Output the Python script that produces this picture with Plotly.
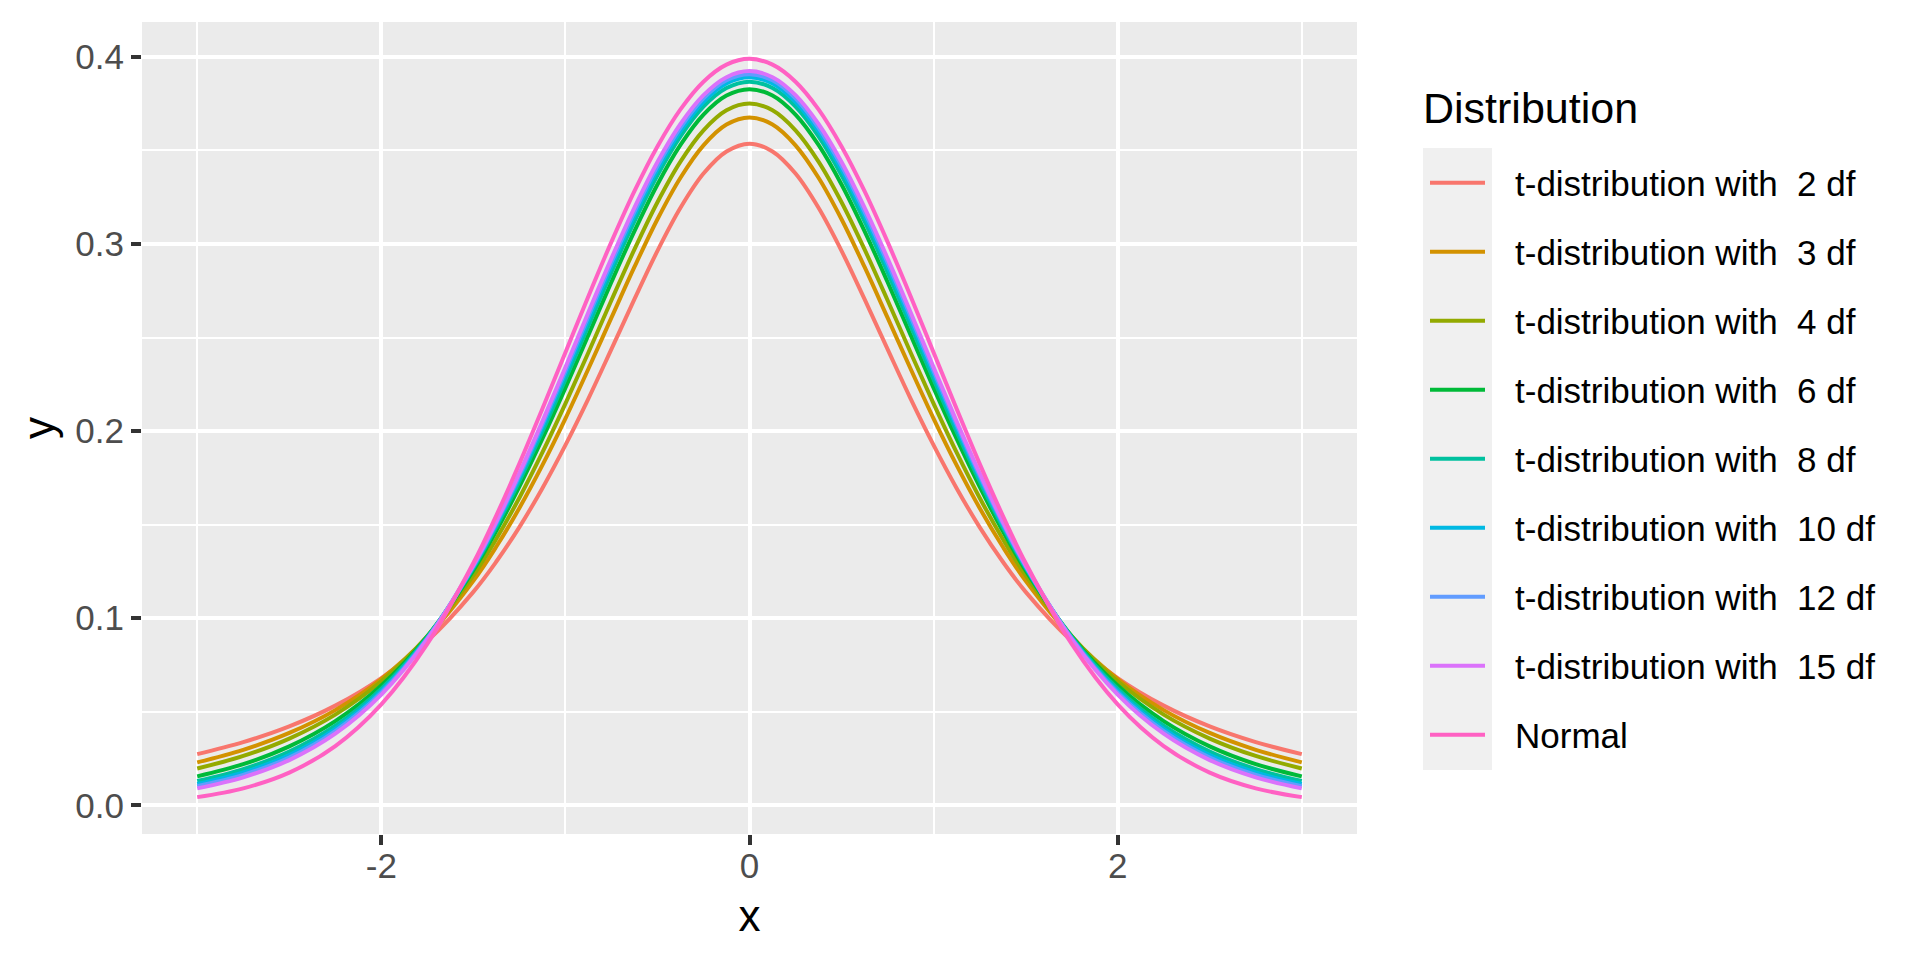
import plotly.graph_objects as go

# x grid the curves were read at (finer around the peak)
x_vals = [-3.0, -2.75, -2.5, -2.25, -2.0, -1.75, -1.5, -1.375, -1.25, -1.125, -1.0, -0.875, -0.75,
          -0.625, -0.5, -0.375, -0.25, -0.125, 0.0, 0.125, 0.25, 0.375, 0.5, 0.625, 0.75, 0.875,
          1.0, 1.125, 1.25, 1.375, 1.5, 1.75, 2.0, 2.25, 2.5, 2.75, 3.0]

# density values
t2 = [0.0274, 0.0338, 0.0422, 0.0533, 0.0680, 0.0878, 0.1141, 0.1303, 0.1487, 0.1695, 0.1925, 0.2174, 0.2438,
      0.2705, 0.2963, 0.3193, 0.3376, 0.3494, 0.3536, 0.3494, 0.3376, 0.3193, 0.2963, 0.2705, 0.2438, 0.2174,
      0.1925, 0.1695, 0.1487, 0.1303, 0.1141, 0.0878, 0.0680, 0.0533, 0.0422, 0.0338, 0.0274]
t3 = [0.0230, 0.0297, 0.0387, 0.0509, 0.0675, 0.0900, 0.1200, 0.1383, 0.1589, 0.1818, 0.2067, 0.2333, 0.2606,
      0.2877, 0.3132, 0.3354, 0.3527, 0.3638, 0.3676, 0.3638, 0.3527, 0.3354, 0.3132, 0.2877, 0.2606, 0.2333,
      0.2067, 0.1818, 0.1589, 0.1383, 0.1200, 0.0900, 0.0675, 0.0509, 0.0387, 0.0297, 0.0230]
t4 = [0.0197, 0.0264, 0.0357, 0.0485, 0.0663, 0.0905, 0.1229, 0.1425, 0.1644, 0.1886, 0.2147, 0.2420, 0.2699,
      0.2971, 0.3223, 0.3440, 0.3607, 0.3714, 0.3750, 0.3714, 0.3607, 0.3440, 0.3223, 0.2971, 0.2699, 0.2420,
      0.2147, 0.1886, 0.1644, 0.1425, 0.1229, 0.0905, 0.0663, 0.0485, 0.0357, 0.0264, 0.0197]
t6 = [0.0155, 0.0220, 0.0315, 0.0450, 0.0640, 0.0904, 0.1256, 0.1467, 0.1703, 0.1959, 0.2231, 0.2514, 0.2797,
      0.3069, 0.3318, 0.3529, 0.3691, 0.3793, 0.3827, 0.3793, 0.3691, 0.3529, 0.3318, 0.3069, 0.2797, 0.2514,
      0.2231, 0.1959, 0.1703, 0.1467, 0.1256, 0.0904, 0.0640, 0.0450, 0.0315, 0.0220, 0.0155]
t8 = [0.0130, 0.0194, 0.0288, 0.0426, 0.0624, 0.0899, 0.1268, 0.1489, 0.1733, 0.1997, 0.2276, 0.2563, 0.2848,
      0.3120, 0.3367, 0.3575, 0.3734, 0.3833, 0.3867, 0.3833, 0.3734, 0.3575, 0.3367, 0.3120, 0.2848, 0.2563,
      0.2276, 0.1997, 0.1733, 0.1489, 0.1268, 0.0899, 0.0624, 0.0426, 0.0288, 0.0194, 0.0130]
t10 = [0.0114, 0.0176, 0.0269, 0.0409, 0.0611, 0.0895, 0.1274, 0.1501, 0.1751, 0.2020, 0.2304, 0.2593, 0.2880,
       0.3152, 0.3397, 0.3603, 0.3760, 0.3858, 0.3891, 0.3858, 0.3760, 0.3603, 0.3397, 0.3152, 0.2880, 0.2593,
       0.2304, 0.2020, 0.1751, 0.1501, 0.1274, 0.0895, 0.0611, 0.0409, 0.0269, 0.0176, 0.0114]
t12 = [0.0103, 0.0163, 0.0256, 0.0397, 0.0602, 0.0892, 0.1279, 0.1510, 0.1763, 0.2036, 0.2322, 0.2614, 0.2901,
       0.3173, 0.3417, 0.3622, 0.3778, 0.3875, 0.3907, 0.3875, 0.3778, 0.3622, 0.3417, 0.3173, 0.2901, 0.2614,
       0.2322, 0.2036, 0.1763, 0.1510, 0.1279, 0.0892, 0.0602, 0.0397, 0.0256, 0.0163, 0.0103]
t15 = [0.0091, 0.0150, 0.0242, 0.0383, 0.0592, 0.0888, 0.1283, 0.1518, 0.1776, 0.2052, 0.2341, 0.2635, 0.2923,
       0.3194, 0.3438, 0.3641, 0.3795, 0.3891, 0.3924, 0.3891, 0.3795, 0.3641, 0.3438, 0.3194, 0.2923, 0.2635,
       0.2341, 0.2052, 0.1776, 0.1518, 0.1283, 0.0888, 0.0592, 0.0383, 0.0242, 0.0150, 0.0091]
normal = [0.0044, 0.0091, 0.0175, 0.0317, 0.0540, 0.0863, 0.1295, 0.1550, 0.1826, 0.2119, 0.2420, 0.2721, 0.3011,
          0.3282, 0.3521, 0.3719, 0.3867, 0.3958, 0.3989, 0.3958, 0.3867, 0.3719, 0.3521, 0.3282, 0.3011, 0.2721,
          0.2420, 0.2119, 0.1826, 0.1550, 0.1295, 0.0863, 0.0540, 0.0317, 0.0175, 0.0091, 0.0044]

series_names = ["t-distribution with  2 df", "t-distribution with  3 df", "t-distribution with  4 df",
                "t-distribution with  6 df", "t-distribution with  8 df", "t-distribution with  10 df",
                "t-distribution with  12 df", "t-distribution with  15 df", "Normal"]
series_values = [t2, t3, t4, t6, t8, t10, t12, t15, normal]

# ggplot default hue palette for 9 groups
colors = ["#F8766D", "#D39200", "#93AA00", "#00BA38", "#00C19F",
          "#00B9E3", "#619CFF", "#DB72FB", "#FF61C3"]

FONT = "Liberation Sans, Arial, sans-serif"

fig = go.Figure()

for name, ys, col in zip(series_names, series_values, colors):
    fig.add_trace(go.Scatter(
        x=x_vals, y=ys, name=name, mode="lines",
        line=dict(color=col, width=4, shape="spline", smoothing=1.0),
        showlegend=False,
    ))

# panel box in the reference picture (px); the html body adds an 8px margin
PL, PR, PT, PB = 142, 1357, 22, 834
PAGE_OFF = 8
W, H = PR - PL, PB - PT

def px_x(p):
    return (p - PL) / W

def px_y(p):
    return (PB - p) / H

# ggplot-style legend, drawn by hand: title, grey key column, key lines, labels
fig.add_annotation(text="Distribution", xref="paper", yref="paper",
                   x=px_x(1421), y=px_y(108), xanchor="left", yanchor="middle",
                   showarrow=False, font=dict(size=43, family=FONT, color="black"))
fig.add_shape(type="rect", xref="paper", yref="paper",
              x0=px_x(1423), x1=px_x(1492), y0=px_y(770), y1=px_y(148),
              fillcolor="#F0F0F0", line=dict(width=0), layer="below")
key_top, key_step = 182.7, 69.0
for i, (name, col) in enumerate(zip(series_names, colors)):
    yk = key_top + key_step * i
    fig.add_shape(type="line", xref="paper", yref="paper",
                  x0=px_x(1430), x1=px_x(1485), y0=px_y(yk), y1=px_y(yk),
                  line=dict(color=col, width=4))
    fig.add_annotation(text=name, xref="paper", yref="paper",
                       x=px_x(1513), y=px_y(yk + 1), xanchor="left", yanchor="middle",
                       showarrow=False, font=dict(size=35, family=FONT, color="black"))

axis_common = dict(
    showgrid=True, gridcolor="white", gridwidth=4,
    zeroline=False, showline=False,
    ticks="outside", ticklen=10, tickwidth=4, tickcolor="#333333",
    tickfont=dict(family=FONT, size=35, color="#4D4D4D"),
)

fig.update_layout(
    width=1920, height=960,
    margin=dict(l=PL - PAGE_OFF, r=1920 - PR + PAGE_OFF, t=PT - PAGE_OFF, b=960 - PB + PAGE_OFF),
    paper_bgcolor="white",
    plot_bgcolor="#EBEBEB",
    font=dict(family=FONT, color="black"),
    showlegend=False,
    xaxis=dict(
        range=[-3.3, 3.3], tickvals=[-2, 0, 2], ticktext=["-2", "0", "2"],
        minor=dict(tickvals=[-3, -1, 1, 3], showgrid=True, gridcolor="white", gridwidth=2, ticks=""),
        title=dict(text="x", font=dict(size=44, family=FONT), standoff=16),
        ticklabelstandoff=-9,
        **axis_common,
    ),
    yaxis=dict(
        range=[-0.0153, 0.4186], tickvals=[0.0, 0.1, 0.2, 0.3, 0.4],
        ticktext=["0.0", "0.1", "0.2", "0.3", "0.4"],
        minor=dict(tickvals=[0.05, 0.15, 0.25, 0.35], showgrid=True, gridcolor="white", gridwidth=2, ticks=""),
        title=dict(text="y", font=dict(size=44, family=FONT), standoff=6),
        ticklabelstandoff=0,
        **axis_common,
    ),
)

fig.write_html("out.html")
